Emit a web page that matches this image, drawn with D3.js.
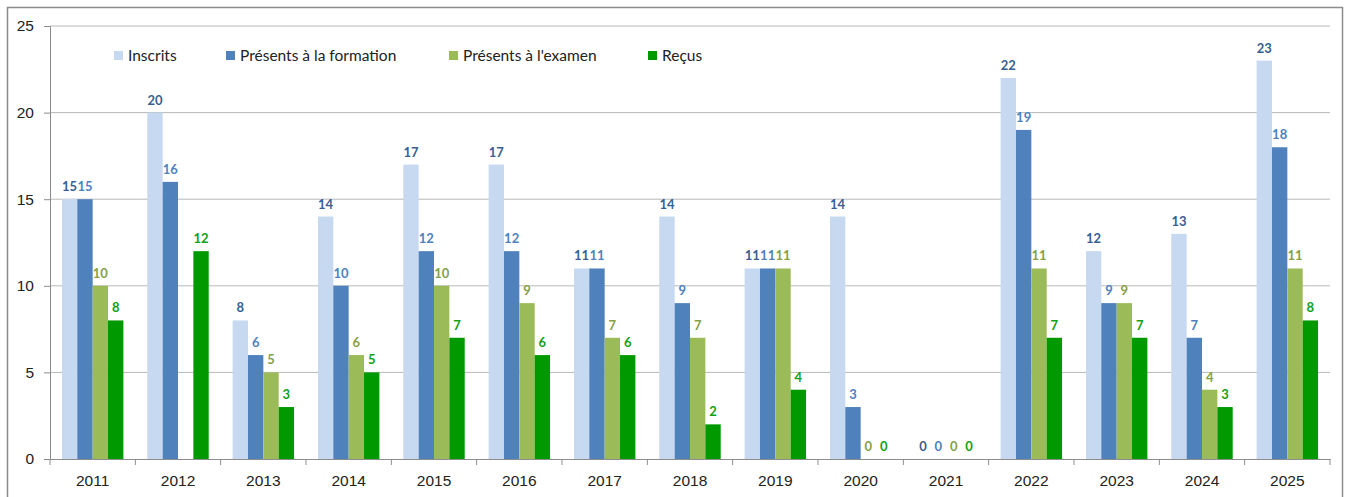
<!DOCTYPE html>
<html>
<head>
<meta charset="utf-8">
<script src="https://cdn.jsdelivr.net/npm/d3@7"></script>
<style>
  body { margin: 0; background: #fff; }
  svg { font-family: Lato, "Open Sans", sans-serif; }
</style>
</head>
<body>
<div id="chart"></div>
<script>
// Data
var years = ["2011", "2012", "2013", "2014", "2015", "2016", "2017", "2018",
             "2019", "2020", "2021", "2022", "2023", "2024", "2025"];
var seriesNames = ["Inscrits", "Présents à la formation", "Présents à l'examen", "Reçus"];
var inscrits   = [15, 20, 8, 14, 17, 17, 11, 14, 11, 14, 0, 22, 12, 13, 23];
var formation  = [15, 16, 6, 10, 12, 12, 11, 9, 11, 3, 0, 19, 9, 7, 18];
var examen     = [10, null, 5, 6, 10, 9, 7, 7, 11, 0, 0, 11, 9, 4, 11];
var recus      = [8, 12, 3, 5, 7, 6, 6, 2, 4, 0, 0, 7, 7, 3, 8];
var yTicks = [0, 5, 10, 15, 20, 25];

var barColors = ["#c6d9f1", "#4f81bd", "#9bbb59", "#009900"];
var labelColors = ["#375f92", "#4f81bd", "#86a046", "#13a013"];

var W = 1346, H = 497;
var margin = { top: 26, right: 16, bottom: 38, left: 50 };
var width = 1330 - margin.left;
var height = 459 - margin.top;

var svg = d3.select("#chart").append("svg")
  .attr("width", W)
  .attr("height", H);

// outer chart frame
svg.append("rect")
  .attr("x", 7.5).attr("y", 7.5)
  .attr("width", 1335).attr("height", 500)
  .attr("fill", "none")
  .attr("stroke", "#8c8c8c")
  .attr("stroke-width", 1.5);

var g = svg.append("g")
  .attr("transform", "translate(" + margin.left + "," + margin.top + ")");

var x0 = d3.scaleBand().domain(years).range([0, width]).padding(0);
var x1 = d3.scaleBand().domain(d3.range(4))
  .range([0, x0.bandwidth() * 0.72]);
var groupOffset = (x0.bandwidth() - x0.bandwidth() * 0.72) / 2;

var y = d3.scaleLinear().domain([0, 25]).range([height, 0]);

// gridlines
g.selectAll(".grid")
  .data(yTicks.filter(function(d) { return d > 0; }))
  .enter().append("line")
  .attr("x1", 0).attr("x2", width)
  .attr("y1", function(d) { return y(d); })
  .attr("y2", function(d) { return y(d); })
  .attr("stroke", "#b8b8b8")
  .attr("stroke-width", 1);

// y axis
var yAxis = g.append("g")
  .call(d3.axisLeft(y).tickValues(yTicks).tickSize(6).tickPadding(10));
yAxis.select(".domain").attr("stroke", "#8c8c8c");
yAxis.selectAll(".tick line").attr("stroke", "#8c8c8c");
yAxis.selectAll("text").attr("font-size", "15.5px").attr("fill", "#222");

// x axis
var xAxis = g.append("g")
  .attr("transform", "translate(0," + height + ")")
  .call(d3.axisBottom(x0).tickSize(0).tickPadding(16));
xAxis.select(".domain").attr("stroke", "#8c8c8c");
xAxis.selectAll("text").attr("font-size", "15.5px").attr("fill", "#222");
// tick marks on category boundaries
g.selectAll(".xtick")
  .data(d3.range(years.length + 1))
  .enter().append("line")
  .attr("x1", function(i) { return i * x0.bandwidth(); })
  .attr("x2", function(i) { return i * x0.bandwidth(); })
  .attr("y1", height).attr("y2", height + 6)
  .attr("stroke", "#8c8c8c");

var allSeries = [inscrits, formation, examen, recus];
var rows = [];
years.forEach(function(yr, i) {
  allSeries.forEach(function(s, k) {
    rows.push({ year: yr, k: k, v: s[i] });
  });
});
var present = rows.filter(function(d) { return d.v !== null; });

g.selectAll(".bar")
  .data(present.filter(function(d) { return d.v > 0; }))
  .enter().append("rect")
  .attr("x", function(d) { return x0(d.year) + groupOffset + x1(d.k); })
  .attr("y", function(d) { return y(d.v); })
  .attr("width", x1.bandwidth())
  .attr("height", function(d) { return height - y(d.v); })
  .attr("fill", function(d) { return barColors[d.k]; });

g.selectAll(".lbl")
  .data(present)
  .enter().append("text")
  .attr("x", function(d) { return x0(d.year) + groupOffset + x1(d.k) + x1.bandwidth() / 2; })
  .attr("y", function(d) { return y(d.v) - 8; })
  .attr("text-anchor", "middle")
  .attr("font-size", "13px")
  .attr("font-weight", "bold")
  .attr("fill", function(d) { return labelColors[d.k]; })
  .text(function(d) { return d.v; });

// legend
var legendX = [114, 226, 449, 648];
var legend = svg.selectAll(".legend")
  .data(seriesNames)
  .enter().append("g")
  .attr("transform", function(d, i) { return "translate(" + legendX[i] + ",51)"; });
legend.append("rect")
  .attr("width", 9).attr("height", 9)
  .attr("fill", function(d, i) { return barColors[i]; });
legend.append("text")
  .attr("x", 14).attr("y", 9.5)
  .attr("font-size", "15.5px")
  .attr("fill", "#222")
  .text(function(d) { return d; });
</script>
</body>
</html>
